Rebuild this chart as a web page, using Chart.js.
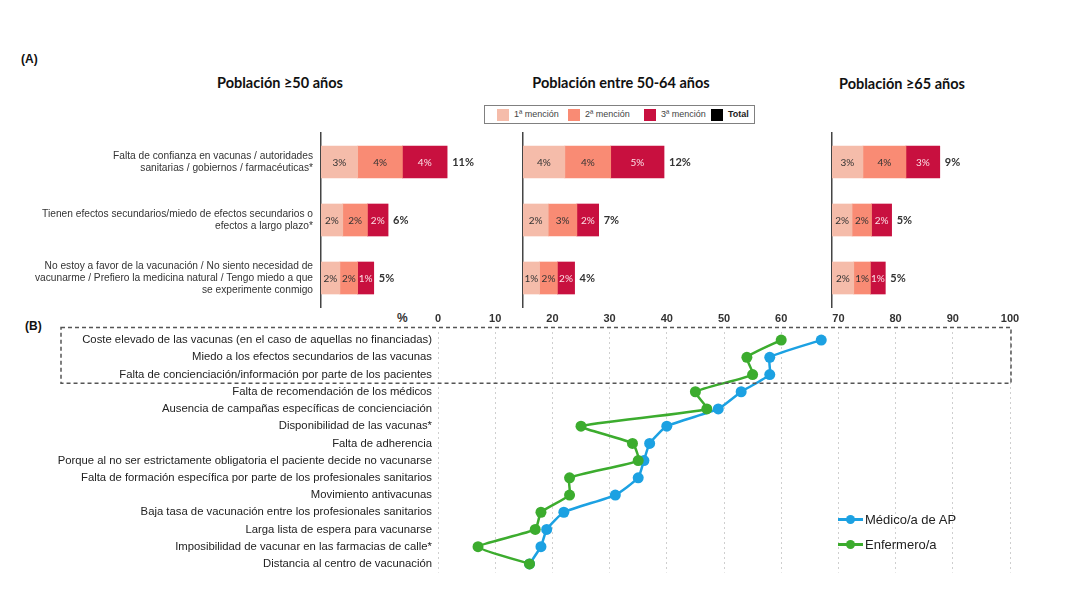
<!DOCTYPE html>
<html>
<head>
<meta charset="utf-8">
<script src="https://cdn.jsdelivr.net/npm/chart.js@4.4.0/dist/chart.umd.min.js"></script>
<style>
  body { margin: 0; width: 1080px; height: 608px; background: #fff; position: relative; overflow: hidden;
         font-family: "Liberation Sans", Arial, sans-serif; color: #222; }
  canvas { position: absolute; }
  .txt { position: absolute; white-space: nowrap; }
  .tag { font-weight: bold; font-size: 12px; color: #111; }
  .titulo { font-family: Lato, sans-serif; font-weight: bold; font-size: 14.5px; color: #111; transform: translateX(-50%); }
  #leyendaA { position: absolute; left: 484px; top: 105px; width: 269px; height: 17px; border: 1px solid #808080; }
  #leyendaA .sq { position: absolute; top: 3px; width: 12px; height: 12px; }
  #leyendaA .lb { position: absolute; top: 3px; font-size: 9px; color: #444; }
  .legB { position: absolute; left: 838px; font-size: 13px; color: #222; }
  .legB .ln { display: inline-block; position: relative; width: 25px; height: 3px; vertical-align: middle; margin-right: 2px; top: -1px; }
  .legB .ln i { position: absolute; left: 8px; top: -3px; width: 9px; height: 9px; border-radius: 50%; }
</style>
</head>
<body>

<div class="txt tag" style="left:21px; top:52px;">(A)</div>
<div class="txt tag" style="left:25px; top:319px;">(B)</div>
<div class="txt titulo" style="left:280px; top:74px;">Población ≥50 años</div>
<div class="txt titulo" style="left:621px; top:74px;">Población entre 50-64 años</div>
<div class="txt titulo" style="left:902px; top:75px;">Población ≥65 años</div>

<div id="leyendaA">
  <div class="sq" style="left:12px; background:#f5bcaa;"></div><div class="lb" style="left:29px;">1ª mención</div>
  <div class="sq" style="left:83px; background:#f98b74;"></div><div class="lb" style="left:100px;">2ª mención</div>
  <div class="sq" style="left:159px; background:#c8103f;"></div><div class="lb" style="left:176px;">3ª mención</div>
  <div class="sq" style="left:226px; background:#000;"></div><div class="lb" style="left:243px; font-weight:bold; color:#222;">Total</div>
</div>

<div class="txt" style="left:397px; top:311px; font-weight:bold; font-size:12px; color:#333;">%</div>

<canvas id="a50" width="493" height="200" style="left:0px; top:120px;"></canvas>
<canvas id="a5064" width="182" height="200" style="left:513px; top:120px;"></canvas>
<canvas id="a65" width="182" height="200" style="left:822px; top:120px;"></canvas>
<canvas id="chartB" width="1080" height="278" style="left:0px; top:300px;"></canvas>

<div class="legB" style="top:512px;"><span class="ln" style="background:#1ca1e2;"><i style="background:#1ca1e2;"></i></span>Médico/a de AP</div>
<div class="legB" style="top:537px;"><span class="ln" style="background:#3cac2e;"><i style="background:#3cac2e;"></i></span>Enfermero/a</div>

<script>
// ---------- (A) motivos de no vacunación ----------
const motivosA = [
  ['Falta de confianza en vacunas / autoridades', 'sanitarias / gobiernos / farmacéuticas*'],
  ['Tienen efectos secundarios/miedo de efectos secundarios o', 'efectos a largo plazo*'],
  ['No estoy a favor de la vacunación / No siento necesidad de', 'vacunarme / Prefiero la medicina natural / Tengo miedo a que', 'se experimente conmigo']
];

const p50_m1 = [3.2, 1.9, 1.65];
const p50_m2 = [3.9, 2.15, 1.55];
const p50_m3 = [3.9, 1.8, 1.4];
const p50_txt1 = ['3%', '2%', '2%'];
const p50_txt2 = ['4%', '2%', '2%'];
const p50_txt3 = ['4%', '2%', '1%'];
const p50_total = ['11%', '6%', '5%'];

// Población entre 50-64 años
const p5064_m1 = [3.65, 2.2, 1.45];
const p5064_m2 = [4.0, 2.5, 1.55];
const p5064_m3 = [4.65, 1.9, 1.5];
const p5064_txt1 = ['4%', '2%', '1%'];
const p5064_txt2 = ['4%', '3%', '2%'];
const p5064_txt3 = ['5%', '2%', '2%'];
const p5064_total = ['12%', '7%', '4%'];

// Población >=65 años
const p65_m1 = [2.7, 1.75, 1.9];
const p65_m2 = [3.75, 1.7, 1.45];
const p65_m3 = [2.95, 1.75, 1.3];
const p65_txt1 = ['3%', '2%', '2%'];
const p65_txt2 = ['4%', '2%', '1%'];
const p65_txt3 = ['3%', '2%', '1%'];
const p65_total = ['9%', '5%', '5%'];

// ---------- (B) barreras según profesionales ----------
const barrerasB = [
  'Coste elevado de las vacunas (en el caso de aquellas no financiadas)',
  'Miedo a los efectos secundarios de las vacunas',
  'Falta de concienciación/información por parte de los pacientes',
  'Falta de recomendación de los médicos',
  'Ausencia de campañas específicas de concienciación',
  'Disponibilidad de las vacunas*',
  'Falta de adherencia',
  'Porque al no ser estrictamente obligatoria el paciente decide no vacunarse',
  'Falta de formación específica por parte de los profesionales sanitarios',
  'Movimiento antivacunas',
  'Baja tasa de vacunación entre los profesionales sanitarios',
  'Larga lista de espera para vacunarse',
  'Imposibilidad de vacunar en las farmacias de calle*',
  'Distancia al centro de vacunación'
];
const medicoAP  = [67, 58, 58, 53, 49, 40, 37, 36, 35, 31, 22, 19, 18, 16];
const enfermero = [60, 54, 55, 45, 47, 25, 34, 35, 23, 23, 18, 17, 7, 16];

const C1 = '#f5bcaa', C2 = '#f98b74', C3 = '#c8103f';
const AZUL = '#1ca1e2', VERDE = '#3cac2e';

// etiquetas dentro de cada tramo y total al final de la barra
const etiquetasBarras = {
  id: 'etiquetasBarras',
  afterDatasetsDraw(chart, args, opts) {
    const ctx = chart.ctx;
    ctx.save();
    ctx.textAlign = 'center';
    ctx.textBaseline = 'middle';
    ctx.font = '10px Lato, sans-serif';
    chart.data.datasets.forEach((ds, di) => {
      chart.getDatasetMeta(di).data.forEach((bar, i) => {
        ctx.fillStyle = di === 2 ? '#fbe0e6' : '#333';
        ctx.fillText(opts.textos[di][i], (bar.x + bar.base) / 2, bar.y + 0.5);
      });
    });
    const ultimo = chart.getDatasetMeta(chart.data.datasets.length - 1);
    ctx.textAlign = 'left';
    ctx.font = 'bold 11px Lato, sans-serif';
    ctx.fillStyle = '#333';
    ultimo.data.forEach((bar, i) => {
      ctx.fillText(opts.totales[i], bar.x + 5, bar.y);
    });
    ctx.restore();
  }
};

function panelA(id, m1, m2, m3, t1, t2, t3, totales, conEtiquetas, anchoEje) {
  new Chart(document.getElementById(id), {
    type: 'bar',
    data: {
      labels: motivosA,
      datasets: [
        { label: '1ª mención', data: m1, backgroundColor: C1, barThickness: 32 },
        { label: '2ª mención', data: m2, backgroundColor: C2, barThickness: 32 },
        { label: '3ª mención', data: m3, backgroundColor: C3, barThickness: 32 }
      ]
    },
    options: {
      indexAxis: 'y',
      responsive: false,
      animation: false,
      layout: { padding: { top: 13, bottom: 13, left: 0, right: 0 } },
      scales: {
        x: { stacked: true, display: false, min: 0, max: 15 },
        y: {
          stacked: true,
          grid: { display: false, drawTicks: false },
          border: { display: true, color: '#444', width: 1.5 },
          ticks: { display: conEtiquetas, color: '#333', padding: 8,
                   font: { family: 'Liberation Sans', size: 10.2 } },
          afterFit: (s) => { s.width = anchoEje; s.paddingTop = 0; s.paddingBottom = 0; }
        }
      },
      plugins: {
        legend: { display: false },
        tooltip: { enabled: false },
        etiquetasBarras: { textos: [t1, t2, t3], totales: totales }
      }
    },
    plugins: [etiquetasBarras]
  });
}

panelA('a50', p50_m1, p50_m2, p50_m3, p50_txt1, p50_txt2, p50_txt3, p50_total, true, 321);
panelA('a5064', p5064_m1, p5064_m2, p5064_m3, p5064_txt1, p5064_txt2, p5064_txt3, p5064_total, false, 10);
panelA('a65', p65_m1, p65_m2, p65_m3, p65_txt1, p65_txt2, p65_txt3, p65_total, false, 10);

// recuadro discontinuo de las tres primeras barreras
const recuadro = {
  id: 'recuadro',
  afterDraw(chart) {
    const { ctx, scales: { x, y } } = chart;
    const top = y.getPixelForValue(0) - 12.5;
    const bottom = (y.getPixelForValue(2) + y.getPixelForValue(3)) / 2;
    const right = x.getPixelForValue(100) + 1;
    ctx.save();
    ctx.strokeStyle = '#555';
    ctx.lineWidth = 1.5;
    ctx.setLineDash([4, 3]);
    ctx.strokeRect(61, top, right - 61, bottom - top);
    ctx.restore();
  }
};

new Chart(document.getElementById('chartB'), {
  type: 'line',
  data: {
    labels: barrerasB,
    datasets: [
      { label: 'Médico/a de AP', data: medicoAP, borderColor: AZUL, backgroundColor: AZUL,
        borderWidth: 2.5, pointRadius: 5.5, pointBorderWidth: 0, tension: 0.15, order: 1 },
      { label: 'Enfermero/a', data: enfermero, borderColor: VERDE, backgroundColor: VERDE,
        borderWidth: 2.5, pointRadius: 5.5, pointBorderWidth: 0, tension: 0.15, order: 0 }
    ]
  },
  options: {
    indexAxis: 'y',
    responsive: false,
    animation: false,
    layout: { padding: { left: 0, right: 70, top: 0, bottom: 0 } },
    scales: {
      x: {
        position: 'top', min: 0, max: 100,
        ticks: { stepSize: 10, color: '#333', padding: 6,
                 font: { family: 'Liberation Sans', size: 11, weight: 'bold' } },
        grid: { color: '#cfcfcf', lineWidth: 1, drawTicks: false },
        border: { display: false, dash: [2, 3] },
        afterFit: (s) => { s.height = 31.5; }
      },
      y: {
        offset: true,
        grid: { display: false, drawTicks: false },
        border: { display: false },
        ticks: { color: '#222', padding: 6, font: { family: 'Liberation Sans', size: 11.3 } },
        afterFit: (s) => { s.width = 438; s.paddingTop = 0; s.paddingBottom = 0; }
      }
    },
    plugins: { legend: { display: false }, tooltip: { enabled: false } }
  },
  plugins: [recuadro]
});
</script>
</body>
</html>
